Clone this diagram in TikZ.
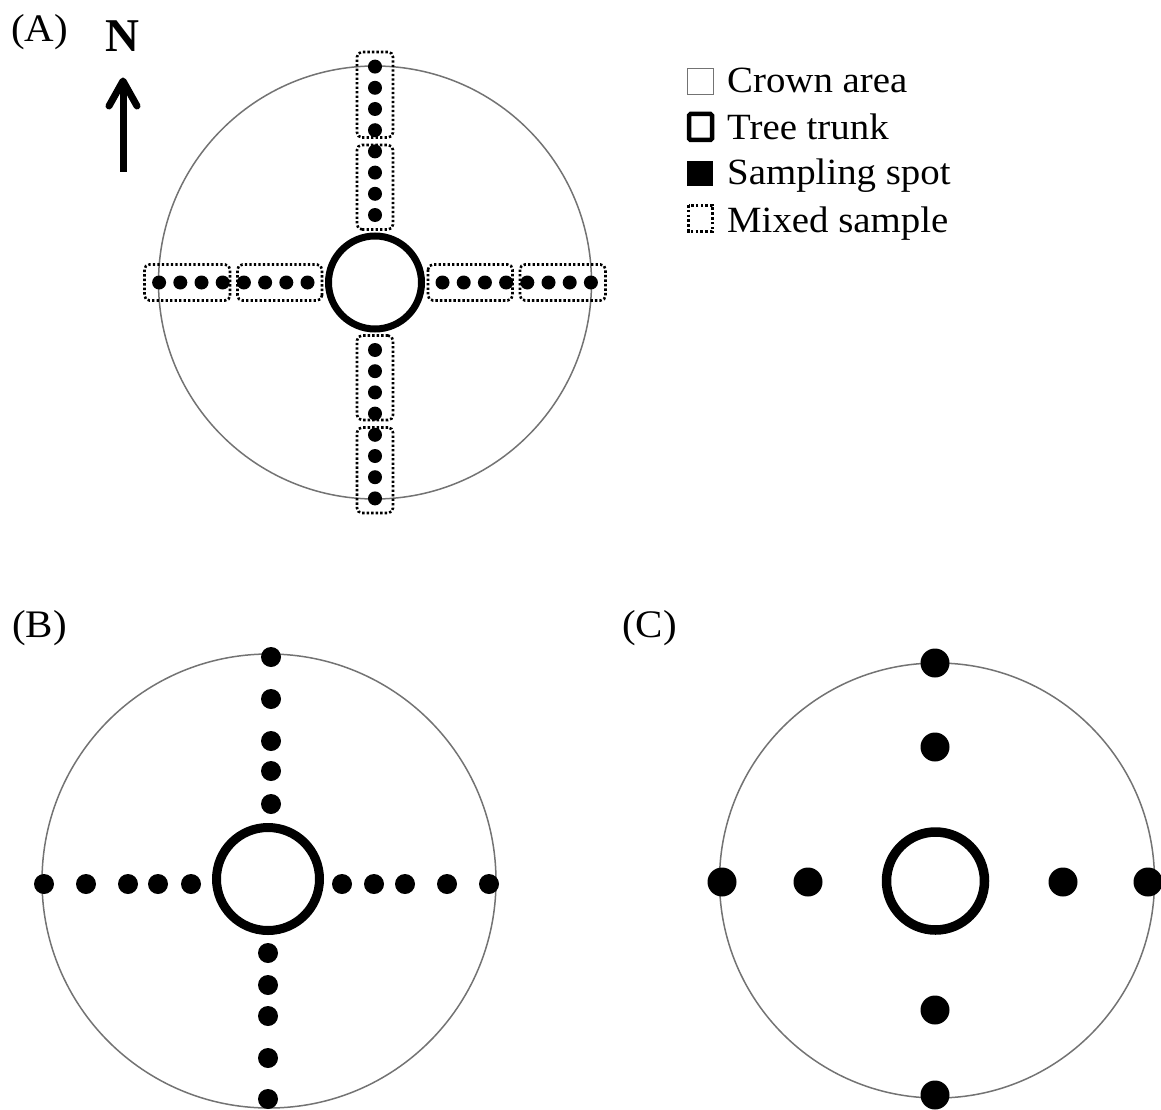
\documentclass[tikz,border=0pt]{standalone}
\usepackage{fontspec}
\setmainfont[FakeStretch=1.05]{Liberation Serif}
\newfontfamily\nfont{Liberation Serif}
\begin{document}
\begin{tikzpicture}[x=1pt,y=-1pt,
  crown/.style={draw=black!55, line width=1.5pt},
  trunkline/.style={draw=black, fill=white},
  spot/.style={fill=black},
  mixbox/.style={draw=black, line width=2.6pt, dash pattern=on 2.4pt off 2.1pt, rounded corners=5pt},
  lbl/.style={anchor=base west, inner sep=0pt, font=\fontsize{39}{42}\selectfont},
  legtxt/.style={anchor=base west, inner sep=0pt, font=\fontsize{37}{40}\selectfont}]
\useasboundingbox (0,0) rectangle (1161,1110);

% ---------------- Panel A ----------------
\node[lbl] (labA) at (11,42) {(A)};
\node[anchor=base, inner sep=0pt, font=\nfont\bfseries\fontsize{47}{47}\selectfont] (north) at (122.5,52) {N};
\coordinate (arrtip) at (123,81);
\coordinate (arrbase) at (123,172);
\draw[line width=7pt] (arrbase) -- (arrtip);
\draw[line width=7pt, line cap=round, line join=round] (109,106) -- (arrtip) -- (137,106);

\coordinate (cA) at (375,282.5);
\draw[crown] (cA) circle[radius=216.5];
\foreach \ang in {0,90,180,270}{
  \begin{scope}[shift={(cA)}, rotate=\ang]
    \draw[mixbox] (53,-18) rectangle (137.5,18);
    \draw[mixbox] (145,-18) rectangle (230.5,18);
    \foreach \k in {0,...,7}{
      \fill[spot] ({67.5+21.2*\k},0) circle[radius=7];
    }
  \end{scope}
}
\draw[trunkline, line width=7pt] (cA) circle[radius=46.5];

% ---------------- Legend ----------------
\draw[draw=black!55, line width=1.2pt] (687.5,68.5) rectangle (713.5,94.5);
\node[legtxt] (lg1) at (727,93) {Crown area};
\draw[line width=4.5pt, rounded corners=1.5pt] (689,114) rectangle (712,140);
\node[legtxt] (lg2) at (727,140) {Tree trunk};
\fill (687,161) rectangle (713,186);
\node[legtxt] (lg3) at (727,185) {Sampling spot};
\draw[line width=3pt, dash pattern=on 2.6pt off 2.2pt] (688.5,205) rectangle (712.5,231.5);
\node[legtxt] (lg4) at (727,232) {Mixed sample};

% ---------------- Panel B ----------------
\node[lbl] (labB) at (12,637) {(B)};
\coordinate (cB) at (269,881);
\draw[crown] (cB) circle[radius=227];
\foreach \yy in {657,699,741,771,804}{ \fill[spot] (271,\yy) circle[radius=10]; }
\foreach \yy in {953,985,1016,1058,1099}{ \fill[spot] (268,\yy) circle[radius=10]; }
\foreach \xx in {44,86,128,158,191,342,374,405,447,489}{ \fill[spot] (\xx,884) circle[radius=10]; }
\draw[trunkline, line width=9pt] (268,879) circle[radius=51.5];

% ---------------- Panel C ----------------
\node[lbl] (labC) at (622,637) {(C)};
\coordinate (cC) at (937,880.5);
\draw[crown] (cC) circle[radius=217.5];
\foreach \yy in {663,747,1010,1095}{ \fill[spot] (935,\yy) circle[radius=14.5]; }
\foreach \xx in {722,808,1063,1148}{ \fill[spot] (\xx,882) circle[radius=14.5]; }
\draw[trunkline, line width=9.5pt] (935.5,881) circle[radius=49];
\end{tikzpicture}
\end{document}
